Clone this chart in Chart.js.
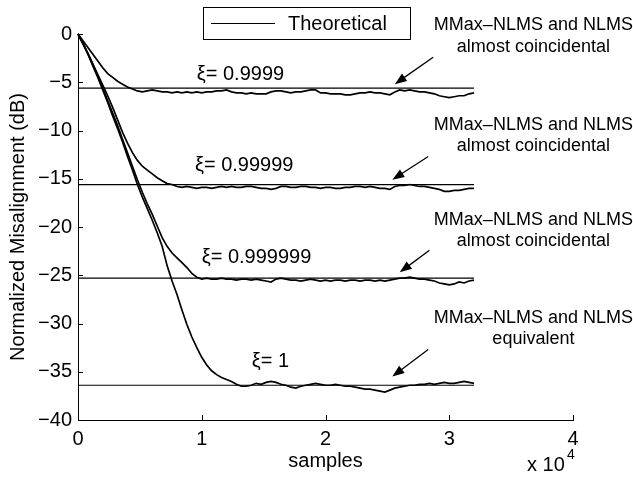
<!DOCTYPE html>
<html>
<head>
<meta charset="utf-8">
<script src="https://cdn.jsdelivr.net/npm/chart.js@4.4.1/dist/chart.umd.min.js"></script>
<style>
  html, body { margin: 0; padding: 0; background: #fff; }
  #wrap { position: relative; width: 633px; height: 480px; }
</style>
</head>
<body>
<div id="wrap"><canvas id="c" width="633" height="480"></canvas></div>
<script>
// ── data ────────────────────────────────────────────────────────────────
// sample grid every 400 samples, 0 … 32 000
const samples = Array.from({ length: 81 }, (_, i) => i * 400);

const xiLabels = ["ξ= 0.9999", "ξ= 0.99999", "ξ= 0.999999", "ξ= 1"];

// normalized misalignment (dB)
const mis_0_9999 = [
  0, -0.7, -1.4, -2.1, -2.8, -3.5, -4.1, -4.5, -4.9, -5.2,
  -5.5, -5.7, -5.9, -6.0, -5.9, -5.8, -5.9, -6.0, -6.0, -6.1,
  -6.0, -6.1, -6.0, -6.1, -6.0, -6.1, -6.0, -6.0, -5.9, -5.9,
  -5.8, -6.0, -6.1, -6.1, -6.2, -6.1, -6.2, -6.2, -6.2, -6.0,
  -5.9, -5.9, -6.0, -6.1, -6.0, -6.0, -5.9, -5.8, -5.8, -6.1,
  -6.1, -6.2, -6.2, -6.2, -6.3, -6.3, -6.2, -6.1, -6.1, -6.0,
  -6.1, -6.1, -6.2, -6.3, -6.0, -5.8, -5.9, -5.8, -5.9, -6.0,
  -6.0, -6.1, -6.2, -6.4, -6.5, -6.6, -6.5, -6.4, -6.4, -6.2,
  -6.1,
];
const mis_0_99999 = [
  0, -1.0, -2.0, -3.1, -4.2, -5.3, -6.4, -7.6, -8.9, -10.2,
  -11.3, -12.3, -13.1, -13.7, -14.1, -14.5, -14.9, -15.2, -15.5, -15.6,
  -15.8, -15.9, -15.8, -15.9, -16.0, -15.9, -15.9, -16.0, -15.9, -15.8,
  -15.9, -15.8, -15.9, -15.9, -15.8, -15.8, -15.9, -16.0, -16.0, -16.1,
  -16.0, -15.8, -15.8, -15.9, -15.9, -15.8, -15.8, -15.9, -15.9, -16.0,
  -15.9, -15.9, -16.0, -16.0, -15.9, -15.9, -15.8, -15.8, -15.9, -15.8,
  -15.9, -16.0, -16.0, -16.1, -15.8, -15.7, -15.7, -15.6, -15.7, -15.8,
  -15.8, -15.9, -16.0, -16.1, -16.3, -16.3, -16.2, -16.2, -16.1, -16.0,
  -16.0,
];
const mis_0_999999 = [
  0, -1.0, -2.0, -3.2, -4.4, -5.6, -6.9, -8.2, -9.5, -10.9,
  -12.3, -13.7, -15.1, -16.4, -17.6, -18.7, -19.9, -21.1, -22.0, -22.7,
  -23.2, -23.7, -24.2, -24.8, -25.2, -25.4, -25.3, -25.4, -25.4, -25.3,
  -25.4, -25.4, -25.5, -25.4, -25.4, -25.5, -25.4, -25.5, -25.6, -25.7,
  -25.4, -25.3, -25.4, -25.5, -25.5, -25.6, -25.5, -25.4, -25.5, -25.6,
  -25.5, -25.6, -25.5, -25.5, -25.6, -25.5, -25.5, -25.6, -25.5, -25.5,
  -25.6, -25.5, -25.6, -25.5, -25.4, -25.3, -25.3, -25.2, -25.3, -25.4,
  -25.4, -25.5, -25.6, -25.8, -25.9, -26.0, -25.9, -25.7, -25.8, -25.6,
  -25.5,
];
const mis_1 = [
  0, -1.0, -2.1, -3.3, -4.5, -5.8, -7.1, -8.5, -9.8, -11.2,
  -12.7, -14.1, -15.6, -16.9, -18.1, -19.3, -20.6, -22.0, -24.0, -25.6,
  -27.0, -28.6, -30.1, -31.4, -32.5, -33.5, -34.3, -34.9, -35.3, -35.6,
  -35.8, -36.0, -36.3, -36.5, -36.5, -36.4, -36.2, -36.3, -36.1, -36.0,
  -36.1, -36.3, -36.4, -36.6, -36.7, -36.5, -36.4, -36.3, -36.2, -36.3,
  -36.4, -36.4, -36.3, -36.4, -36.5, -36.5, -36.6, -36.7, -36.8, -36.8,
  -36.9, -37.0, -37.1, -36.9, -36.7, -36.6, -36.5, -36.4, -36.4, -36.3,
  -36.3, -36.2, -36.3, -36.2, -36.1, -36.2, -36.2, -36.1, -36.0, -36.1,
  -36.2,
];

// theoretical steady-state levels (dB) and their sample span
const theoryLevels = [-5.6, -15.6, -25.3, -36.4];
const theorySpan = [0, 32000];

const curves = [mis_0_9999, mis_0_99999, mis_0_999999, mis_1];

// ── annotations (data units) ──────────────────────────────────────────────
const xiTags = [
  { x: 9600, y: -4.2 },
  { x: 9450, y: -13.6 },
  { x: 10000, y: -23.2 },
  { x: 14050, y: -33.9 },
];
const notes = [
  { lines: ["MMax\u2013NLMS and NLMS", "almost coincidental"], x: 36800, y: [0.9, -1.3] },
  { lines: ["MMax\u2013NLMS and NLMS", "almost coincidental"], x: 36800, y: [-9.4, -11.6] },
  { lines: ["MMax\u2013NLMS and NLMS", "almost coincidental"], x: 36800, y: [-19.3, -21.5] },
  { lines: ["MMax\u2013NLMS and NLMS", "equivalent"], x: 36800, y: [-29.4, -31.6] },
];
const arrows = [
  { from: [28700, -2.4], to: [25600, -5.2] },
  { from: [28300, -12.7], to: [25400, -15.1] },
  { from: [28400, -22.4], to: [26000, -24.7] },
  { from: [28300, -32.7], to: [25400, -35.5] },
];

const FONT = "'Liberation Sans', Arial, Helvetica, sans-serif";

// ── datasets ─────────────────────────────────────────────────────────────
const datasets = [];
theoryLevels.forEach((lvl) => {
  datasets.push({
    label: "Theoretical",
    data: theorySpan.map((x) => ({ x, y: lvl })),
    borderColor: "#000",
    borderWidth: 1.2,
    pointRadius: 0,
    clip: false,
  });
});
curves.forEach((arr, k) => {
  datasets.push({
    label: xiLabels[k],
    data: samples.map((x, i) => ({ x, y: arr[i] })),
    borderColor: "#000",
    borderWidth: 1.7,
    pointRadius: 0,
    tension: 0,
    clip: false,
  });
});

// ── drawing helpers: inward ticks, legend, labels, arrows ────────────────
const decorations = {
  id: "decorations",
  afterDraw(chart) {
    const { ctx, scales: { x, y } } = chart;
    const px = (v) => x.getPixelForValue(v);
    const py = (v) => y.getPixelForValue(v);
    ctx.save();
    ctx.strokeStyle = "#000";
    ctx.fillStyle = "#000";
    ctx.lineWidth = 1;

    // MATLAB style ticks pointing into the axes
    ctx.beginPath();
    y.ticks.forEach((t) => {
      const yy = Math.round(py(t.value)) + 0.5;
      ctx.moveTo(x.left, yy);
      ctx.lineTo(x.left + 5, yy);
    });
    x.ticks.forEach((t) => {
      const xx = Math.round(px(t.value)) + 0.5;
      ctx.moveTo(xx, y.bottom);
      ctx.lineTo(xx, y.bottom - 5);
    });
    ctx.stroke();

    // legend box
    ctx.fillStyle = "#fff";
    ctx.fillRect(203.5, 7.5, 207, 32);
    ctx.strokeRect(203.5, 7.5, 207, 32);
    ctx.beginPath();
    ctx.moveTo(211, 23.5);
    ctx.lineTo(275, 23.5);
    ctx.stroke();
    ctx.fillStyle = "#000";
    ctx.font = "20px " + FONT;
    ctx.textAlign = "left";
    ctx.textBaseline = "middle";
    ctx.fillText(datasets[0].label, 288, 24);

    // ξ labels
    ctx.font = "20px " + FONT;
    xiTags.forEach((p, k) => ctx.fillText(xiLabels[k], px(p.x), py(p.y)));

    // notes
    ctx.font = "18px " + FONT;
    ctx.textAlign = "center";
    notes.forEach((n) => {
      n.lines.forEach((s, j) => ctx.fillText(s, px(n.x), py(n.y[j])));
    });

    // arrows
    arrows.forEach((a) => {
      const x0 = px(a.from[0]), y0 = py(a.from[1]);
      const x1 = px(a.to[0]), y1 = py(a.to[1]);
      const ang = Math.atan2(y1 - y0, x1 - x0);
      const len = 12, half = 4.5;
      ctx.beginPath();
      ctx.moveTo(x0, y0);
      ctx.lineTo(x1 - Math.cos(ang) * len * 0.8, y1 - Math.sin(ang) * len * 0.8);
      ctx.lineWidth = 1.3;
      ctx.stroke();
      ctx.beginPath();
      ctx.moveTo(x1, y1);
      ctx.lineTo(x1 - Math.cos(ang) * len - Math.sin(ang) * half, y1 - Math.sin(ang) * len + Math.cos(ang) * half);
      ctx.lineTo(x1 - Math.cos(ang) * len + Math.sin(ang) * half, y1 - Math.sin(ang) * len - Math.cos(ang) * half);
      ctx.closePath();
      ctx.fill();
    });

    // x 10^4 exponent
    ctx.textAlign = "left";
    ctx.textBaseline = "alphabetic";
    ctx.font = "20px " + FONT;
    ctx.fillText("x 10", 527, 471);
    ctx.font = "14px " + FONT;
    ctx.fillText("4", 567, 459);
    ctx.restore();
  },
};

// ── chart ────────────────────────────────────────────────────────────────
new Chart(document.getElementById("c"), {
  type: "line",
  data: { datasets },
  options: {
    responsive: false,
    devicePixelRatio: 1,
    animation: false,
    layout: { padding: { left: 0, top: 34, right: 60, bottom: 0 } },
    plugins: {
      legend: { display: false },
      tooltip: { enabled: false },
    },
    scales: {
      x: {
        type: "linear",
        min: 0,
        max: 40000,
        afterFit: (s) => { s.height = 60; },
        ticks: {
          stepSize: 10000,
          color: "#000",
          padding: 7,
          maxRotation: 0,
          font: { size: 20, family: FONT },
          callback: (v) => v / 10000,
        },
        grid: { display: false, drawTicks: false },
        border: { display: true, color: "#000", width: 1 },
        title: {
          display: true,
          text: "samples",
          color: "#000",
          font: { size: 20, family: FONT },
          padding: { top: 0, bottom: 7 },
        },
      },
      y: {
        min: -40,
        max: 0,
        afterFit: (s) => { s.width = 78; },
        ticks: {
          stepSize: 5,
          color: "#000",
          padding: 6,
          font: { size: 20, family: FONT },
          callback: (v) => (v < 0 ? "\u2212" + Math.abs(v) : "" + v),
        },
        grid: { display: false, drawTicks: false },
        border: { display: true, color: "#000", width: 1 },
        title: {
          display: true,
          text: "Normalized Misalignment (dB)",
          color: "#000",
          font: { size: 20, family: FONT },
          padding: { top: 6, bottom: 0 },
        },
      },
    },
  },
  plugins: [decorations],
});
</script>
</body>
</html>
